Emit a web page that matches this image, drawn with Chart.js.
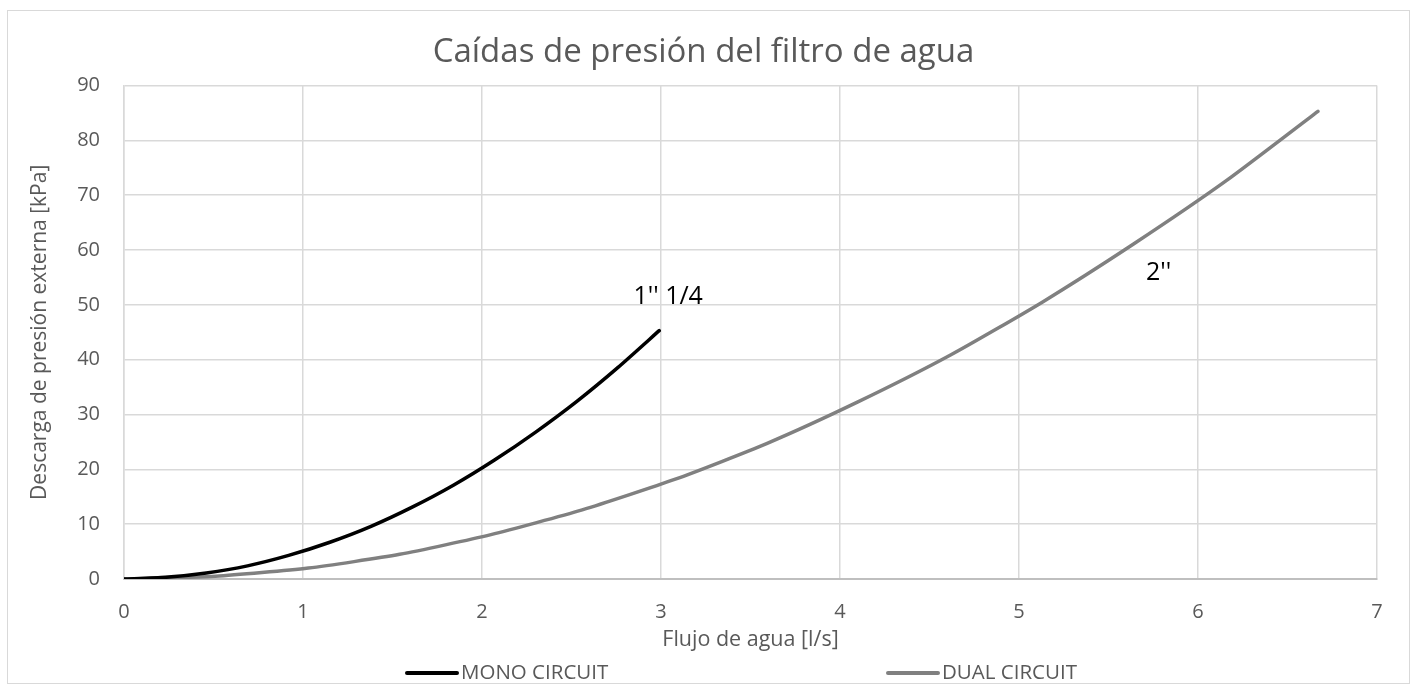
<!DOCTYPE html>
<html lang="es">
<head>
    <meta charset="UTF-8">
    <title>Caídas de presión del filtro de agua</title>
    <script src="https://cdn.jsdelivr.net/npm/chart.js"></script>
    <style>
        html, body {
            margin: 0;
            padding: 0;
            background: #ffffff;
        }
        .frame {
            position: absolute;
            left: 7px;
            top: 10px;
            width: 1401px;
            height: 672px;
            border: 1px solid #d9d9d9;
        }
    </style>
</head>
<body>

    <div class="frame">
        <canvas id="filterChart" width="1401" height="672"></canvas>
    </div>

    <script>
        // Curve 1'' 1/4 (mono circuit)
        const monoFlow = [0, 0.23, 0.46, 0.69, 0.92, 1.15, 1.38, 1.61, 1.84, 2.07, 2.30, 2.53, 2.76, 2.99];
        const monoDrop = [0, 0.3, 1.1, 2.4, 4.3, 6.7, 9.6, 13.1, 17.1, 21.7, 26.8, 32.4, 38.6, 45.3];

        // Curve 2'' (dual circuit)
        const dualFlow = [0, 0.51, 1.03, 1.54, 2.05, 2.56, 3.08, 3.59, 4.10, 4.62, 5.13, 5.64, 6.16, 6.67];
        const dualDrop = [0, 0.5, 2.0, 4.5, 8.1, 12.6, 18.2, 24.7, 32.3, 40.9, 50.5, 61.1, 72.7, 85.3];

        const seriesNames = ['MONO CIRCUIT', 'DUAL CIRCUIT'];

        // Curve labels, in data units
        const curveLabels = ["1'' 1/4", "2''"];
        const curveLabelX = [3.04, 5.78];
        const curveLabelY = [51.4, 55.8];

        const textGrey = '#595959';
        const fontFamily = "'Open Sans', 'Liberation Sans', sans-serif";

        function toPoints(xs, ys) {
            return xs.map((x, i) => ({ x: x, y: ys[i] }));
        }

        // Draw the little text labels next to the curves
        const curveLabelPlugin = {
            id: 'curveLabels',
            afterDatasetsDraw(chart) {
                const ctx = chart.ctx;
                const xs = chart.scales.x, ys = chart.scales.y;
                ctx.save();
                ctx.font = '25px ' + fontFamily;
                ctx.fillStyle = '#000000';
                ctx.textAlign = 'center';
                ctx.textBaseline = 'middle';
                curveLabels.forEach((txt, i) => {
                    ctx.fillText(txt, xs.getPixelForValue(curveLabelX[i]), ys.getPixelForValue(curveLabelY[i]));
                });
                ctx.restore();
            }
        };

        // Excel style legend: two items spread along the bottom
        const bottomLegendPlugin = {
            id: 'bottomLegend',
            afterDraw(chart) {
                const ctx = chart.ctx;
                const starts = [399, 880];
                const lineLen = 50;
                const y = chart.height - 10;
                ctx.save();
                ctx.font = '20.5px ' + fontFamily;
                ctx.textBaseline = 'middle';
                ctx.textAlign = 'left';
                chart.data.datasets.forEach((ds, i) => {
                    ctx.strokeStyle = ds.borderColor;
                    ctx.lineWidth = 4;
                    ctx.lineCap = 'round';
                    ctx.beginPath();
                    ctx.moveTo(starts[i], y);
                    ctx.lineTo(starts[i] + lineLen, y);
                    ctx.stroke();
                    ctx.fillStyle = textGrey;
                    ctx.fillText(ds.label, starts[i] + lineLen + 4, y);
                });
                ctx.restore();
            }
        };

        const ctx = document.getElementById('filterChart').getContext('2d');
        const filterChart = new Chart(ctx, {
            type: 'scatter',
            data: {
                datasets: [{
                    label: seriesNames[0],
                    data: toPoints(monoFlow, monoDrop),
                    showLine: true,
                    borderColor: '#000000',
                    backgroundColor: '#000000',
                    borderWidth: 3.5,
                    pointRadius: 0,
                    tension: 0.2,
                    borderCapStyle: 'round',
                    borderJoinStyle: 'round'
                }, {
                    label: seriesNames[1],
                    data: toPoints(dualFlow, dualDrop),
                    showLine: true,
                    borderColor: '#808080',
                    backgroundColor: '#808080',
                    borderWidth: 3.5,
                    pointRadius: 0,
                    tension: 0.2,
                    borderCapStyle: 'round',
                    borderJoinStyle: 'round'
                }]
            },
            options: {
                responsive: false,
                animation: false,
                layout: {
                    padding: { left: 0, right: 10, top: 0, bottom: 30 }
                },
                plugins: {
                    legend: { display: false },
                    tooltip: { enabled: false },
                    title: {
                        display: true,
                        text: 'Caídas de presión del filtro de agua',
                        color: textGrey,
                        font: { family: fontFamily, size: 33, weight: 'normal' },
                        padding: { top: 22, bottom: 13 }
                    }
                },
                scales: {
                    x: {
                        type: 'linear',
                        min: 0,
                        max: 7,
                        afterFit(scale) { scale.height = 74; },
                        ticks: {
                            stepSize: 1,
                            color: textGrey,
                            padding: 21,
                            font: { family: fontFamily, size: 20 }
                        },
                        grid: { color: '#d9d9d9', lineWidth: 1.5, drawTicks: false },
                        border: { color: '#bfbfbf', width: 2 },
                        title: {
                            display: true,
                            text: 'Flujo de agua [l/s]',
                            color: textGrey,
                            font: { family: fontFamily, size: 21.5 },
                            padding: { top: 0, bottom: 0 }
                        }
                    },
                    y: {
                        min: 0,
                        max: 90,
                        afterFit(scale) { scale.width = 116; },
                        ticks: {
                            stepSize: 10,
                            color: textGrey,
                            padding: 24,
                            font: { family: fontFamily, size: 20 }
                        },
                        grid: { color: '#d9d9d9', lineWidth: 1.5, drawTicks: false },
                        border: { color: '#d9d9d9', width: 1.5 },
                        title: {
                            display: true,
                            text: 'Descarga de presión externa [kPa]',
                            color: textGrey,
                            font: { family: fontFamily, size: 21 },
                            padding: { top: 19, bottom: 0 }
                        }
                    },
                    // empty right-hand spacer so the title centres on the whole frame
                    ySpacer: {
                        position: 'right',
                        min: 0,
                        max: 90,
                        afterFit(scale) { scale.width = 22; },
                        ticks: { display: false },
                        grid: { display: false, drawTicks: false },
                        border: { display: false }
                    }
                }
            },
            plugins: [curveLabelPlugin, bottomLegendPlugin]
        });
    </script>

</body>
</html>
